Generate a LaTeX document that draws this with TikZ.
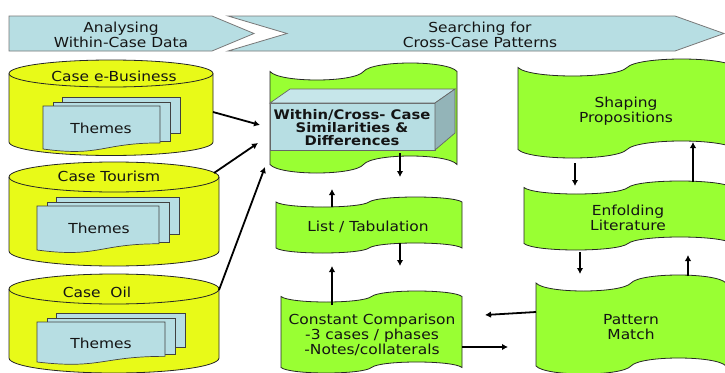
\documentclass[tikz,border=0pt]{standalone}
\usepackage{fontspec}
\setmainfont{DejaVu Sans}[FakeStretch=1.12]
\usetikzlibrary{arrows.meta}
\definecolor{caseyellow}{RGB}{232,250,24}
\definecolor{tapegreen}{RGB}{153,255,51}
\definecolor{paleblue}{RGB}{183,222,227}
\definecolor{palebluetop}{RGB}{198,230,234}
\definecolor{boxside}{RGB}{147,180,184}
\definecolor{bandedge}{RGB}{120,120,120}

% punched tape: x-left, x-right, top of upper wave, bottom of lower wave, wave height
\newcommand\tapeshape[5]{%
  \pgfmathsetmacro\tA{#1}\pgfmathsetmacro\tB{#2}%
  \pgfmathsetmacro\tM{(#1+#2)/2}\pgfmathsetmacro\tL{(#2-#1)/2}%
  \pgfmathsetmacro\tT{#3+#5}\pgfmathsetmacro\tU{#4-#5}%
  \pgfmathsetmacro\tK{4*#5/3}%
  \draw[tapestyle] (\tA,\tT)
    .. controls (\tA+0.1*\tL,\tT+\tK) and (\tM-0.1*\tL,\tT+\tK) .. (\tM,\tT)
    .. controls (\tM+0.1*\tL,\tT-\tK) and (\tB-0.1*\tL,\tT-\tK) .. (\tB,\tT)
    -- (\tB,\tU)
    .. controls (\tB-0.1*\tL,\tU-\tK) and (\tM+0.1*\tL,\tU-\tK) .. (\tM,\tU)
    .. controls (\tM-0.1*\tL,\tU+\tK) and (\tA+0.1*\tL,\tU+\tK) .. (\tA,\tU)
    -- cycle;}

% cylinder: x-left, x-right, y of top ellipse centre, y of bottom ellipse centre, half height of ellipse
\newcommand\cylshape[5]{%
  \pgfmathsetmacro\cA{#1}\pgfmathsetmacro\cB{#2}%
  \pgfmathsetmacro\cM{(#1+#2)/2}\pgfmathsetmacro\cR{(#2-#1)/2}%
  \pgfmathsetmacro\cKx{0.5523*\cR}\pgfmathsetmacro\cKy{0.5523*#5}%
  \draw[cylstyle] (\cA,#3) -- (\cA,#4)
    .. controls (\cA,#4+\cKy) and (\cM-\cKx,#4+#5) .. (\cM,#4+#5)
    .. controls (\cM+\cKx,#4+#5) and (\cB,#4+\cKy) .. (\cB,#4)
    -- (\cB,#3)
    .. controls (\cB,#3-\cKy) and (\cM+\cKx,#3-#5) .. (\cM,#3-#5)
    .. controls (\cM-\cKx,#3-#5) and (\cA,#3-\cKy) .. (\cA,#3) -- cycle;
  \draw[cylline] (\cA,#3)
    .. controls (\cA,#3+\cKy) and (\cM-\cKx,#3+#5) .. (\cM,#3+#5)
    .. controls (\cM+\cKx,#3+#5) and (\cB,#3+\cKy) .. (\cB,#3);}

% stack of three theme sheets: front sheet x-left, y-top, x-right, y-bottom-left
\newcommand\sheetstack[4]{%
  \pgfmathsetmacro\sH{(#4-#2)/0.934}%
  \draw[sheetstyle] (#1+19,#2-9) rectangle (#3+20,#2-9+0.80*\sH);
  \draw[sheetstyle] (#1+10,#2-4) rectangle (#3+10,#2-4+0.85*\sH);
  \draw[sheetstyle] (#1,#2) -- (#3,#2) -- (#3,#2+0.802*\sH)
    .. controls ({(#1+#3)/2},#2+0.802*\sH) and ({(#1+#3)/2},#2+1.107*\sH) .. (#1,#4)
    -- cycle;}

\begin{document}
\begin{tikzpicture}[x=1pt,y=-1pt,
  txt/.style={font=\fontsize{13.8}{15}\selectfont, align=center, inner sep=0pt, text=black!92},
  boldtxt/.style={font=\fontsize{13.2}{13}\selectfont\bfseries, align=center, inner sep=0pt, text=black!92},
  band/.style={draw=bandedge, line width=0.8pt, fill=paleblue},
  tapestyle/.style={draw=black!85, line width=0.8pt, fill=tapegreen},
  cylstyle/.style={draw=black!85, line width=0.8pt, fill=caseyellow},
  cylline/.style={draw=black!85, line width=0.8pt},
  sheetstyle/.style={draw=black!75, line width=0.7pt, fill=paleblue},
  flow/.style={line width=1.8pt, -{Latex[length=6pt,width=6.5pt]}}]
\useasboundingbox (0,0) rectangle (725,372);
\fill[white] (0,0) rectangle (725,372);
\begin{scope}
\clip (0,0) rectangle (725,372);

% phase bands along the top
\draw[band] (9,16) -- (212,16) -- (254,33.5) -- (212,51) -- (9,51) -- cycle;
\draw[band] (228,16) -- (675,16) -- (724,33.5) -- (675,51) -- (228,51) -- (287,33.5) -- cycle;
\node[txt] (phaseA) at (121,35) {Analysing\\Within-Case Data};
\node[txt] (phaseB) at (480,35) {Searching for\\Cross-Case Patterns};

% the three cases
\cylshape{9}{213}{73.5}{142}{13.5}
\sheetstack{43}{106}{160}{149}
\node[txt] (caseA) at (114,76.5) {Case e-Business};
\node[txt] (themesA) at (101,128) {Themes};

\cylshape{9}{219}{177}{251}{15}
\sheetstack{37}{206}{159}{250}
\node[txt] (caseB) at (109,176.5) {Case Tourism};
\node[txt] (themesB) at (99,228) {Themes};

\cylshape{9}{219}{289}{358}{15}
\sheetstack{37}{322}{165}{362}
\node[txt] (caseC) at (97,292.5) {Case\ \ Oil};
\node[txt] (themesC) at (101,343) {Themes};

% middle column
\tapeshape{270}{457}{63}{173}{8.5}
\fill[paleblue, draw=black!60, line width=0.7pt] (270,103) rectangle (435,150);
\fill[palebluetop, draw=black!60, line width=0.7pt] (270,103) -- (290,89) -- (455,89) -- (435,103) -- cycle;
\fill[boxside, draw=black!60, line width=0.7pt] (435,103) -- (455,89) -- (455,133) -- (435,150) -- cycle;
\node[boldtxt] (simdiff) at (352,128) {Within/Cross- Case\\Similarities \&\\Differences};

\tapeshape{276}{462}{197}{253}{5}
\node[txt] (tabul) at (368,226.5) {List / Tabulation};

\tapeshape{281}{462}{291}{373}{5.5}
\node[txt] (compar) at (372,334.5) {Constant Comparison\\-3 cases / phases\\-Notes/collaterals};

% right column
\tapeshape{518}{736}{59}{158}{8.5}
\node[txt] (shaping) at (626,111.5) {Shaping\\Propositions};

\tapeshape{524}{732}{181}{250}{6.5}
\node[txt] (enfold) at (628,218) {Enfolding\\Literature};

\tapeshape{536}{726}{275}{374}{8}
\node[txt] (pattern) at (631,327.5) {Pattern\\Match};

% connector end points
\coordinate (caseA-out) at (213,112);
\coordinate (caseB-out) at (214,173);
\coordinate (caseC-out) at (219,290);
\coordinate (sim-inA) at (260,125);
\coordinate (sim-inB) at (258,143);
\coordinate (sim-inC) at (265,167);
\coordinate (sim-down) at (400,153);
\coordinate (tab-downtip) at (400,177);
\coordinate (tab-up) at (332,207);
\coordinate (sim-uptip) at (332,189);
\coordinate (tab-down) at (400,243);
\coordinate (cmp-downtip) at (400,266);
\coordinate (cmp-up) at (332,305);
\coordinate (tab-uptip) at (332,266);
\coordinate (cmp-right) at (462,347);
\coordinate (pm-lefttip) at (508,347);
\coordinate (pm-left) at (536,312);
\coordinate (cmp-righttip) at (485,315);
\coordinate (sp-down) at (575,163);
\coordinate (el-downtip) at (575,186);
\coordinate (el-up) at (693,182);
\coordinate (sp-uptip) at (693,142);
\coordinate (el-down) at (580,252);
\coordinate (pm-downtip) at (580,274);
\coordinate (pm-up) at (688,276);
\coordinate (el-uptip) at (688,255);

\draw[flow] (caseA-out) -- (sim-inA);
\draw[flow] (caseB-out) -- (sim-inB);
\draw[flow] (caseC-out) -- (sim-inC);
\draw[flow] (sim-down) -- (tab-downtip);
\draw[flow] (tab-up) -- (sim-uptip);
\draw[flow] (tab-down) -- (cmp-downtip);
\draw[flow] (cmp-up) -- (tab-uptip);
\draw[flow] (cmp-right) -- (pm-lefttip);
\draw[flow] (pm-left) -- (cmp-righttip);
\draw[flow] (sp-down) -- (el-downtip);
\draw[flow] (el-up) -- (sp-uptip);
\draw[flow] (el-down) -- (pm-downtip);
\draw[flow] (pm-up) -- (el-uptip);
\end{scope}
\end{tikzpicture}
\end{document}
